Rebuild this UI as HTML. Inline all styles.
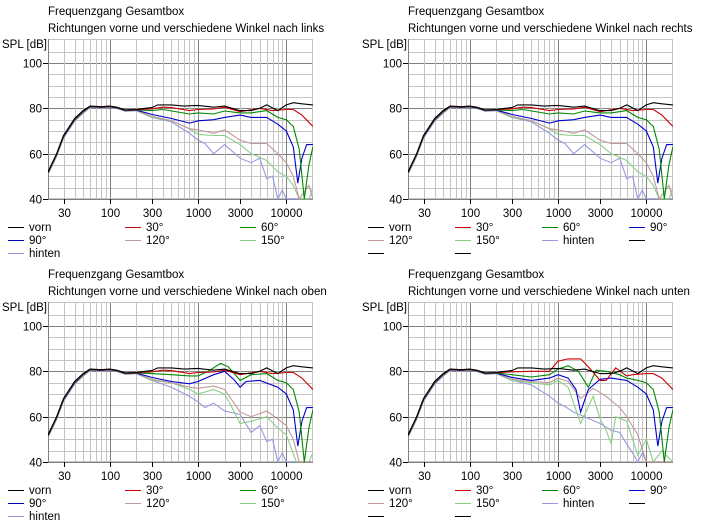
<!DOCTYPE html>
<html><head><meta charset="utf-8"><style>
body{margin:0;background:#fff;width:718px;height:526px;overflow:hidden}
svg text{font-family:"Liberation Sans",sans-serif;font-size:11.5px;fill:#000}
line,rect{shape-rendering:crispEdges}
</style></head><body>
<svg id="s" width="718" height="526" xmlns="http://www.w3.org/2000/svg"></svg>
<script>
const S=document.getElementById('s');let h='';
const X0=48,X1=313,Y0=39,Y1=199,DEC=88.3;
const fx=f=>X0+(Math.log10(f)-Math.log10(20))*DEC;
const fy=d=>199-(d-40)*2.267;
const R=v=>Math.round(v)+0.5;
const col={v:'#000',a:'#c80000',b:'#008800',c:'#0000d0',d:'#c09898',e:'#88d088',g:'#9898e0'};
const low=[[20,52],[25,60],[30,68],[40,75.5],[50,79],[60,81],[80,80.7],[100,81],[120,80.5],[150,79.3],[200,79.5]];
function L(o,arr){return low.map((p,i)=>[p[0],p[1]-o*(i<5?0.6:0.3)]).concat(arr);}
const base={
v:[[250,80],[300,80.3],[350,81.5],[500,81.5],[700,81],[1000,81.3],[1500,80.5],[2000,81],[3000,79],[4000,79],[5000,80],[6000,81.5],[8000,79],[10000,81.5],[12000,82.5],[15000,82],[20000,81.5]],
a:[[300,79.8],[400,80.5],[500,80.3],[800,79],[1000,79.5],[1500,79.7],[2000,80.5],[3000,78.5],[5000,80],[7000,79],[10000,79.5],[12000,79.5],[15000,77],[20000,72]],
b:[[300,79],[400,79.5],[800,77.5],[1000,78],[1500,77.5],[2000,78.8],[3000,78],[4000,78],[6000,79],[8000,76],[10000,75],[12000,72],[14000,62],[16000,40],[18000,55],[20000,63]],
c:[[300,77.3],[500,75.5],[800,73.5],[1000,74.5],[1500,75],[2000,76],[3000,77],[4000,76],[6000,76],[8000,73],[10000,70],[12000,63],[13500,47],[15000,58],[17000,64],[20000,64]],
d:[[300,76.5],[500,74.5],[800,71],[1000,70.5],[1500,69],[2000,70.5],[3000,66],[4000,64.5],[6000,64.5],[8000,60],[10000,56],[12000,50],[14000,40],[18000,46],[20000,40]],
e:[[300,76],[500,74.5],[800,71],[1000,68.5],[1500,68],[2000,68],[3000,64],[4000,60],[6000,57],[8000,52],[10000,50],[12000,46],[14000,40],[18000,40],[20000,45]],
g:[[300,76],[500,74],[800,69],[1000,66],[1200,64.5],[1500,60],[2000,64],[3000,58],[4000,56],[5000,58],[6000,49],[7000,50],[8000,40],[9000,44],[10000,40],[20000,40]]};
const up=Object.assign({},base,{
b:[[300,79],[500,78.5],[800,78],[1000,78],[1300,80],[1800,83.5],[2200,82],[3000,76],[4000,78.5],[6000,79],[8000,76],[10000,75],[12000,72],[14000,62],[16000,40],[18000,55],[20000,63]],
c:[[300,77.3],[500,75.5],[800,74.5],[1000,75.5],[1500,78.5],[2000,80],[2600,76],[3000,73],[3500,75.5],[5000,76],[8000,73],[10000,70],[12000,63],[13500,47],[15000,58],[17000,64],[20000,64]],
d:[[300,76.5],[500,75],[800,73],[1000,72.5],[1500,73.5],[2000,72],[3000,62],[4000,60],[6000,62.5],[8000,59],[10000,56],[12000,50],[14000,40],[20000,40]],
e:[[300,76],[500,75],[800,72],[1000,70],[1500,72],[2000,70],[2500,63],[3000,57],[4000,58],[6000,60],[8000,55],[10000,52],[13000,40],[18000,40],[20000,44]],
g:[[300,76],[500,73],[800,69],[1000,66.5],[1200,64],[1500,66],[2000,62.5],[3000,61],[4000,53],[5000,56],[6000,49],[7000,50],[8000,40],[9000,44],[10000,40],[20000,40]]});
const down=Object.assign({},base,{
a:[[300,79.8],[500,80],[800,80],[1000,84.5],[1300,85.5],[1800,85.5],[2200,82],[3000,76],[3500,76],[4500,81.5],[6000,78],[7000,78.5],[10000,79],[12000,79],[15000,77],[20000,72]],
b:[[300,78.5],[500,77.5],[800,78.5],[1000,81],[1300,82.5],[1700,80],[2200,73],[2700,80.5],[3500,80],[5000,78.5],[6000,77],[8000,76],[10000,75],[12000,72],[14000,62],[16000,40],[18000,55],[20000,63]],
c:[[300,77.3],[500,76],[800,77],[1000,78.5],[1300,77],[1600,72],[1800,62],[2200,72],[3000,76.5],[4000,77],[6000,76],[8000,73],[10000,70],[12000,63],[13500,47],[15000,58],[17000,64],[20000,64]],
d:[[300,76.5],[500,75.5],[800,75],[1000,77],[1300,75.5],[1800,68],[2500,72.5],[3500,69],[5000,64],[6000,60],[8000,52],[10000,40],[20000,40]],
e:[[300,76],[500,75],[800,74],[1000,76],[1300,73],[1800,57],[2500,69],[3000,59],[3500,54],[4000,48],[4500,60],[6000,58],[8000,43],[10000,50],[12000,40],[15000,45],[20000,40]],
g:[[300,76],[500,74],[800,69],[1000,66],[1200,64.5],[1500,62],[2000,60],[3000,57],[4000,54],[5000,53],[6000,48],[7000,44],[8000,40],[9000,44],[10000,40],[20000,40]]});
function panel(ox,oy,t2,data,leg){
 h+=`<g transform="translate(${ox},${oy})">`;
 h+=`<text x="48" y="15">Frequenzgang Gesamtbox</text><text x="48" y="32">${t2}</text><text x="2" y="48">SPL [dB]</text>`;
 h+=`<rect x="${X0}" y="${Y0}" width="${X1-X0}" height="${Y1-Y0}" fill="#fff"/>`;
 for(let d=45;d<=105;d+=5){const y=R(fy(d));h+=`<line x1="${X0}" x2="${X1}" y1="${y}" y2="${y}" stroke="${(d==60||d==80||d==100)?'#808080':'#c4c4c4'}"/>`;}
 for(let dec=10;dec<=10000;dec*=10)for(let m=1;m<10;m++){const f=dec*m;if(f<=20||f>=20000)continue;const x=R(fx(f));
  h+=`<line x1="${x}" x2="${x}" y1="${Y0}" y2="${Y1}" stroke="${m==1?'#808080':'#c4c4c4'}"/>`;}
 h+=`<rect x="${X0+.5}" y="${Y0+.5}" width="${X1-X0-1}" height="${Y1-Y0-1}" fill="none" stroke="#c4c4c4"/>`;
 h+=`<line x1="${X0+.5}" x2="${X0+.5}" y1="${Y0}" y2="${Y1}" stroke="#808080"/><line x1="${X0}" x2="${X1}" y1="${Y1+.5}" y2="${Y1+.5}" stroke="#808080"/>`;
 [40,60,80,100].forEach(d=>{const y=R(fy(d));h+=`<line x1="43" x2="48" y1="${y}" y2="${y}" stroke="#000"/><text x="42" y="${y+4}" text-anchor="end">${d}</text>`;});
 [30,100,300,1000,3000,10000].forEach(f=>{const x=R(fx(f));h+=`<line x1="${x}" x2="${x}" y1="199" y2="204" stroke="#000"/><text x="${x}" y="217" text-anchor="middle">${f}</text>`;});
 h+=`<svg x="${X0}" y="${Y0}" width="${X1-X0}" height="${Y1-Y0+1}" overflow="hidden"><g transform="translate(${-X0},${-Y0})">`;
 const ord=['g','e','d','c','b','a','v'];const off={v:0,a:0.3,b:0.6,c:1,d:1.3,e:1.6,g:2};
 ord.forEach(k=>{const pts=L(off[k],data[k]).map(p=>fx(p[0]).toFixed(1)+','+fy(p[1]).toFixed(1)).join(' ');
  h+=`<polyline points="${pts}" fill="none" stroke="${col[k]}" stroke-width="1.1"/>`;});
 h+=`</g></svg>`;
 leg.forEach(([x,y,k,t])=>{h+=`<line x1="${x}" x2="${x+16}" y1="${y+.5}" y2="${y+.5}" stroke="${col[k]}"/>`;if(t)h+=`<text x="${x+21}" y="${y+4}">${t}</text>`;});
 h+=`</g>`;
}
const leg3=[[8,227,'v','vorn'],[125,227,'a','30°'],[240,227,'b','60°'],[8,240,'c','90°'],[125,240,'d','120°'],[240,240,'e','150°'],[8,253,'g','hinten']];
const leg4=[[8,227,'v','vorn'],[95,227,'a','30°'],[182,227,'b','60°'],[269,227,'c','90°'],[8,240,'d','120°'],[95,240,'e','150°'],[182,240,'g','hinten'],[269,240,'v',''],[8,253,'v',''],[95,253,'v','']];
panel(0,0,'Richtungen vorne und verschiedene Winkel nach links',base,leg3);
panel(360,0,'Richtungen vorne und verschiedene Winkel nach rechts',base,leg4);
panel(0,263,'Richtungen vorne und verschiedene Winkel nach oben',up,leg3);
panel(360,263,'Richtungen vorne und verschiedene Winkel nach unten',down,leg4);
S.innerHTML=h;
</script>
</body></html>
